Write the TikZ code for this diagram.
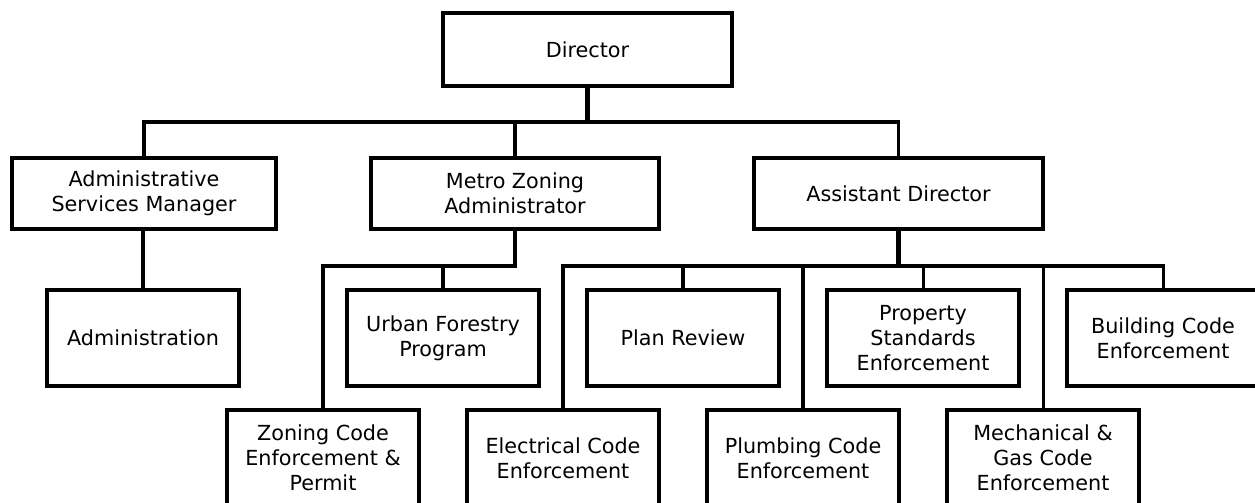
\documentclass[tikz,border=0pt]{standalone}
\usepackage{fontspec}
\setmainfont{DejaVu Sans}

\begin{document}
\begin{tikzpicture}[x=0.5mm, y=-0.5mm,
    box/.style={draw, line width=4.8pt, align=center, inner sep=0pt,
        minimum width=96mm, minimum height=48mm,
        font=\fontsize{29.5}{35.5}\selectfont},
    link/.style={line width=4.3pt},
    stem/.style={line width=6pt}]
    \useasboundingbox (0,0) rectangle (1255,502);
    \clip (0,0) rectangle (1255,502);

    % top levels
    \node[box, minimum width=144.5mm, minimum height=36.5mm] (dir) at (587.5,49.5) {Director};
    \node[box, minimum width=132mm, minimum height=35.5mm] (asm) at (144,193.5) {Administrative\\Services Manager};
    \node[box, minimum width=144mm, minimum height=35.5mm] (mza) at (515,193.5) {Metro Zoning\\Administrator};
    \node[box, minimum width=144.5mm, minimum height=35.5mm] (ad) at (898.5,193.5) {Assistant Director};

    % divisions, upper row
    \node[box] (adm) at (143,338) {Administration};
    \node[box] (ufp) at (443,338) {Urban Forestry\\Program};
    \node[box] (prv) at (683,338) {Plan Review};
    \node[box] (pse) at (923,338) {Property\\Standards\\Enforcement};
    \node[box] (bce) at (1163,338) {Building Code\\Enforcement};
    % divisions, lower row
    \node[box] (zce) at (323,458) {Zoning Code\\Enforcement \&\\Permit};
    \node[box] (ece) at (563,458) {Electrical Code\\Enforcement};
    \node[box] (pce) at (803,458) {Plumbing Code\\Enforcement};
    \node[box] (mgc) at (1043,458) {Mechanical \&\\Gas Code\\Enforcement};

    \coordinate (bus0) at (0,122);
    \coordinate (bus1) at (0,266);

    \draw[stem] (dir.south) -- (dir.south |- bus0);
    \draw[link] (asm.north) |- (ad.north |- bus0) -- (ad.north);
    \draw[link] (mza.north) -- (mza.north |- bus0);

    \draw[stem] (adm.north) -- (adm.north |- asm.south);

    \draw[stem] (mza.south) -- (mza.south |- bus1) -| (zce.north);
    \draw[link] (ufp.north) -- (ufp.north |- bus1);

    \draw[stem] (ad.south) -- (ad.south |- bus1);
    \draw[link] (ece.north) -- (ece.north |- bus1) -- (bce.north |- bus1) -- (bce.north);
    \foreach \n in {prv, pse, pce, mgc}
        \draw[link] (\n.north) -- (\n.north |- bus1);
\end{tikzpicture}
\end{document}
